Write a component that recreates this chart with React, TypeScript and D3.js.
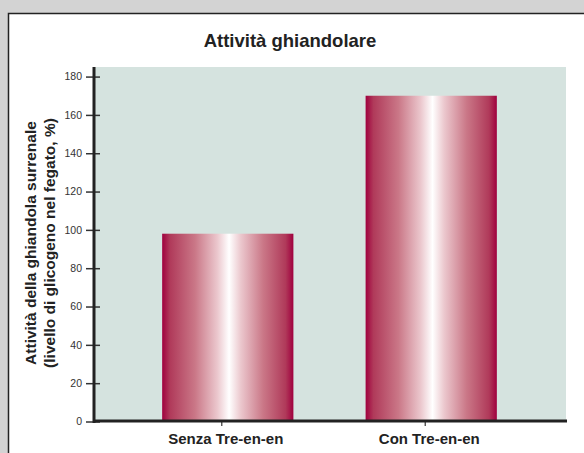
import { useEffect, useRef } from "react";
import * as d3 from "d3";

const categories = ["Senza Tre-en-en", "Con Tre-en-en"];
const values = [98, 170];
const yTicks = [0, 20, 40, 60, 80, 100, 120, 140, 160, 180];

const title = "Attività ghiandolare";
const yTitle = ["Attività della ghiandola surrenale", "(livello di glicogeno nel fegato, %)"];

export default function App() {
  const svgRef = useRef<SVGSVGElement>(null);

  useEffect(() => {
    const W = 584;
    const H = 453;
    const margin = { top: 67, right: 18, bottom: 32, left: 93 };
    const width = W - margin.left - margin.right;
    const height = H - margin.top - margin.bottom;
    const font = "'Liberation Sans', Arial, Helvetica, sans-serif";

    const svg = d3.select(svgRef.current);
    svg.selectAll("*").remove();
    svg.attr("width", W).attr("height", H);

    // gradient for the bars
    const grad = svg
      .append("defs")
      .append("linearGradient")
      .attr("id", "barGrad")
      .attr("x1", "0%")
      .attr("x2", "100%");
    const stops: [number, string][] = [
      [0, "#a0003e"],
      [0.06, "#b03a5a"],
      [0.25, "#ca7787"],
      [0.42, "#ebc7cd"],
      [0.51, "#ffffff"],
      [0.6, "#ebc7cd"],
      [0.77, "#ca7787"],
      [0.94, "#b03a5a"],
      [1, "#a0003e"],
    ];
    stops.forEach(([o, c]) =>
      grad.append("stop").attr("offset", o).attr("stop-color", c)
    );

    // backgrounds
    svg.append("rect").attr("width", W).attr("height", H).attr("fill", "#d3d3d3");
    svg
      .append("rect")
      .attr("x", 8.5)
      .attr("y", 13.5)
      .attr("width", W)
      .attr("height", H)
      .attr("fill", "#ffffff")
      .attr("stroke", "#222")
      .attr("stroke-width", 1.5);

    svg
      .append("text")
      .attr("x", 290)
      .attr("y", 47)
      .attr("text-anchor", "middle")
      .attr("font-family", font)
      .attr("font-weight", "bold")
      .attr("font-size", 18.5)
      .attr("fill", "#222")
      .text(title);

    const g = svg
      .append("g")
      .attr("transform", `translate(${margin.left},${margin.top})`);

    const x = d3
      .scaleBand()
      .domain(categories)
      .range([0, width])
      .paddingInner(0.355)
      .paddingOuter(0.34);
    const y = d3.scaleLinear().domain([0, 185]).range([height + 0.5, 0]);

    g.append("rect")
      .attr("width", width)
      .attr("height", height)
      .attr("fill", "#d5e3df");

    g.selectAll("rect.bar")
      .data(values)
      .enter()
      .append("rect")
      .attr("class", "bar")
      .attr("x", (_, i) => x(categories[i])!)
      .attr("y", (d) => y(d))
      .attr("width", x.bandwidth())
      .attr("height", (d) => y(0) - y(d))
      .attr("fill", "url(#barGrad)");

    // y axis
    const yAxis = g
      .append("g")
      .call(d3.axisLeft(y).tickValues(yTicks).tickSize(7).tickPadding(4));
    yAxis.select(".domain").remove();
    yAxis
      .selectAll(".tick line")
      .attr("x2", -7)
      .attr("x1", 7)
      .attr("stroke", "#333")
      .attr("stroke-width", 1.5);
    yAxis
      .selectAll(".tick text")
      .attr("font-family", font)
      .attr("font-size", 10.5)
      .attr("fill", "#333");
    g.append("line")
      .attr("x1", 1)
      .attr("x2", 1)
      .attr("y1", 0)
      .attr("y2", height + 2)
      .attr("stroke", "#222")
      .attr("stroke-width", 3);

    // x axis
    const xAxis = g
      .append("g")
      .attr("transform", `translate(-6,${height})`)
      .call(d3.axisBottom(x).tickSize(5).tickPadding(7));
    xAxis.select(".domain").remove();
    xAxis.selectAll(".tick line").attr("stroke", "#333").attr("stroke-width", 1.2);
    xAxis
      .selectAll(".tick text")
      .attr("dx", 4)
      .attr("font-family", font)
      .attr("font-weight", "bold")
      .attr("font-size", 15)
      .attr("fill", "#222");
    g.append("line")
      .attr("x1", 0)
      .attr("x2", width + 1)
      .attr("y1", height)
      .attr("y2", height)
      .attr("stroke", "#222")
      .attr("stroke-width", 3);

    // y title
    yTitle.forEach((t, i) => {
      svg
        .append("text")
        .attr("transform", `translate(${36 + i * 19},243) rotate(-90)`)
        .attr("text-anchor", "middle")
        .attr("font-family", font)
        .attr("font-weight", "bold")
        .attr("font-size", 15.5)
        .attr("fill", "#222")
        .text(t);
    });
  }, []);

  return (
    <div style={{ position: "fixed", left: 0, top: 0 }}>
      <svg ref={svgRef} style={{ display: "block" }} />
    </div>
  );
}
